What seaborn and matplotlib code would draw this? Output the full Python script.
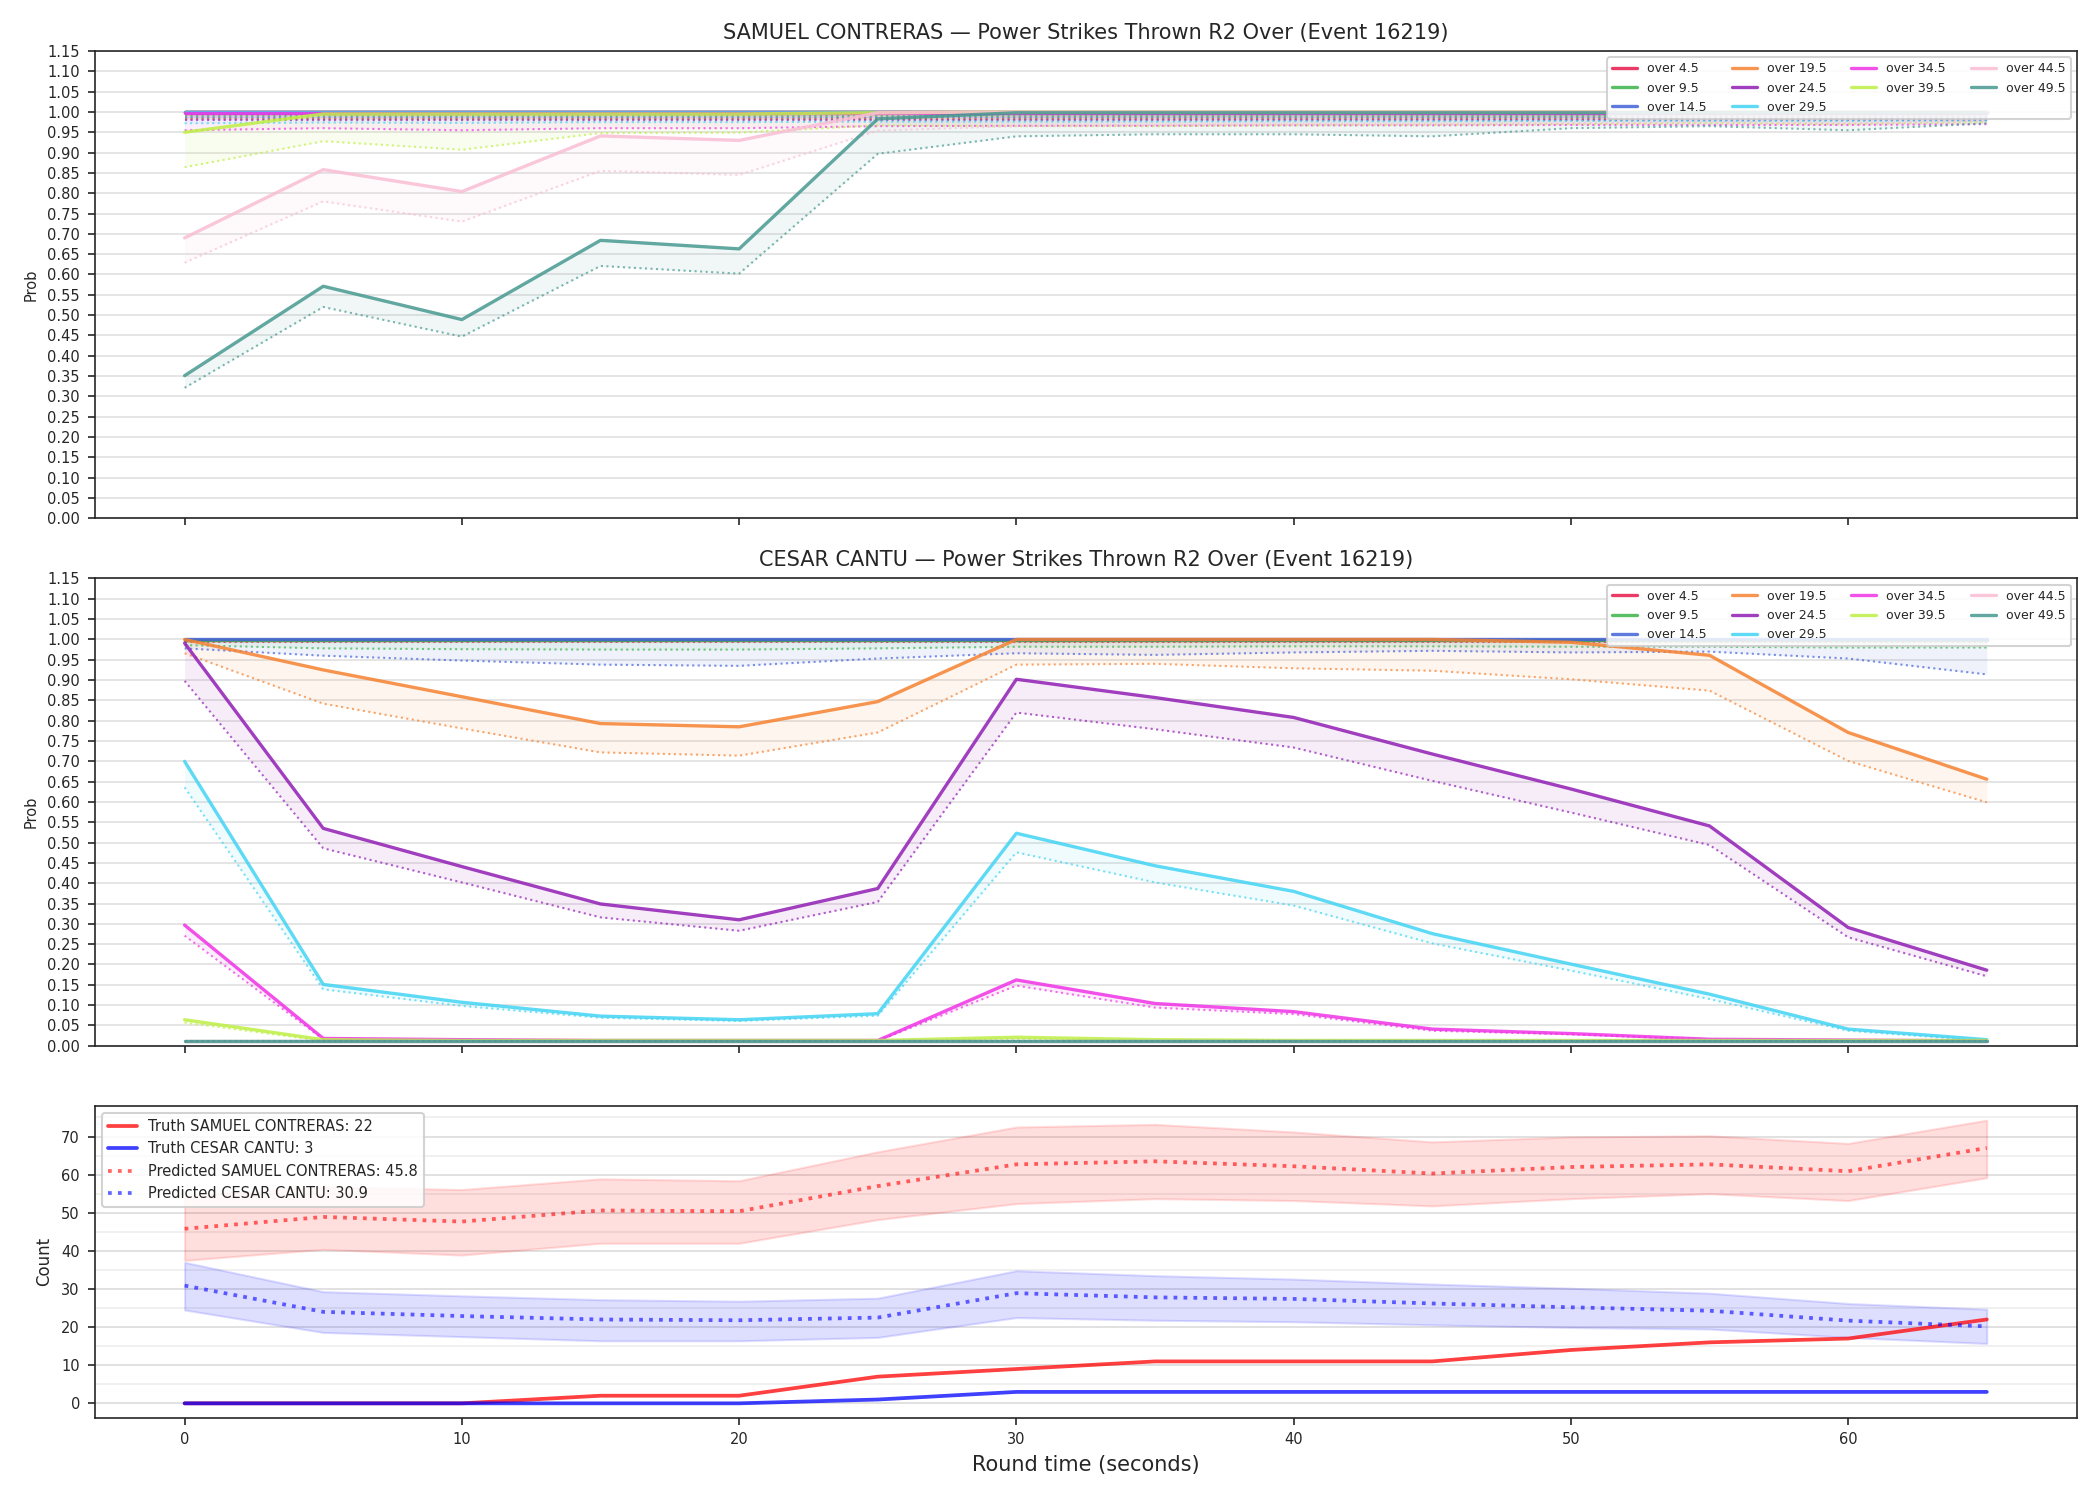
import numpy as np
import matplotlib
matplotlib.use("Agg")
import matplotlib.pyplot as plt
import seaborn as sns
from matplotlib.ticker import MultipleLocator, FormatStrFormatter

sns.set_style("ticks")
plt.rcParams['font.family'] = ['DejaVu Sans']

t = [0, 5, 10, 15, 20, 25, 30, 35, 40, 45, 50, 55, 60, 65]

thresholds = ["over 4.5", "over 9.5", "over 14.5", "over 19.5", "over 24.5",
              "over 29.5", "over 34.5", "over 39.5", "over 44.5", "over 49.5"]
colors = ["#e6194b", "#3cb44b", "#4363d8", "#f58231", "#911eb4",
          "#42d4f4", "#f032e6", "#bfef45", "#fabed4", "#469990"]

# SAMUEL CONTRERAS: probability (solid) and lower bound (dotted)
sc_prob = [
    [1.0] * 14,
    [1.0] * 14,
    [1.0] * 14,
    [1.0] * 14,
    [1.0] * 14,
    [1.0] * 14,
    [0.998] * 14,
    [0.95, 0.995, 0.995, 0.995, 0.995, 0.998, 1.0, 1.0, 1.0, 1.0, 1.0, 1.0, 1.0, 1.0],
    [0.69, 0.858, 0.804, 0.941, 0.93, 0.998, 1.0, 1.0, 1.0, 1.0, 1.0, 1.0, 1.0, 1.0],
    [0.351, 0.571, 0.489, 0.684, 0.663, 0.983, 0.998, 0.998, 0.998, 0.998, 0.998, 0.998, 0.998, 0.998],
]
sc_low = [
    [0.995] * 14,
    [0.99] * 14,
    [0.985] * 14,
    [0.983] * 14,
    [0.98] * 14,
    [0.972, 0.974, 0.973, 0.975, 0.975, 0.976, 0.976, 0.976, 0.977, 0.977, 0.978, 0.978, 0.978, 0.979],
    [0.955, 0.96, 0.955, 0.96, 0.96, 0.965, 0.966, 0.966, 0.967, 0.967, 0.968, 0.968, 0.968, 0.97],
    [0.864, 0.928, 0.907, 0.948, 0.949, 0.967, 0.965, 0.965, 0.967, 0.968, 0.97, 0.972, 0.97, 0.975],
    [0.629, 0.78, 0.73, 0.855, 0.845, 0.954, 0.965, 0.968, 0.97, 0.97, 0.972, 0.975, 0.972, 0.978],
    [0.321, 0.52, 0.447, 0.621, 0.602, 0.897, 0.94, 0.945, 0.945, 0.94, 0.96, 0.965, 0.955, 0.972],
]

# CESAR CANTU
cc_prob = [
    [0.9995] * 14,
    [0.9995] * 14,
    [1.0] * 14,
    [1.0, 0.925, 0.859, 0.793, 0.785, 0.847, 1.0, 1.0, 1.0, 1.0, 0.993, 0.961, 0.771, 0.656],
    [0.991, 0.535, 0.441, 0.349, 0.31, 0.387, 0.902, 0.857, 0.808, 0.718, 0.632, 0.541, 0.291, 0.186],
    [0.70, 0.151, 0.107, 0.073, 0.064, 0.079, 0.523, 0.443, 0.38, 0.276, 0.201, 0.127, 0.041, 0.015],
    [0.297, 0.018, 0.015, 0.013, 0.013, 0.013, 0.162, 0.104, 0.084, 0.041, 0.030, 0.016, 0.014, 0.012],
    [0.064, 0.015, 0.013, 0.013, 0.013, 0.013, 0.021, 0.015, 0.013, 0.013, 0.013, 0.013, 0.013, 0.013],
    [0.012] * 14,
    [0.012] * 14,
]
cc_low = [
    [0.994] * 14,
    [0.986, 0.978, 0.976, 0.975, 0.975, 0.978, 0.982, 0.982, 0.983, 0.983, 0.982, 0.982, 0.98, 0.98],
    [0.978, 0.96, 0.948, 0.938, 0.935, 0.953, 0.966, 0.962, 0.968, 0.972, 0.968, 0.97, 0.953, 0.914],
    [0.966, 0.842, 0.781, 0.722, 0.714, 0.771, 0.938, 0.940, 0.929, 0.923, 0.902, 0.874, 0.701, 0.599],
    [0.898, 0.486, 0.402, 0.316, 0.283, 0.354, 0.82, 0.779, 0.734, 0.652, 0.574, 0.494, 0.267, 0.171],
    [0.636, 0.139, 0.098, 0.069, 0.061, 0.074, 0.476, 0.402, 0.345, 0.252, 0.185, 0.115, 0.037, 0.012],
    [0.271, 0.016, 0.013, 0.012, 0.012, 0.012, 0.148, 0.094, 0.078, 0.037, 0.028, 0.015, 0.013, 0.011],
    [0.057, 0.012, 0.012, 0.012, 0.012, 0.012, 0.017, 0.012, 0.012, 0.012, 0.012, 0.012, 0.012, 0.012],
    [0.011] * 14,
    [0.011] * 14,
]

# counts
truth_sc = [0, 0, 0, 2, 2, 7, 9, 11, 11, 11, 14, 16, 17, 22]
truth_cc = [0, 0, 0, 0, 0, 1, 3, 3, 3, 3, 3, 3, 3, 3]
pred_sc = [45.8, 48.9, 47.7, 50.6, 50.4, 57.0, 62.7, 63.5, 62.2, 60.3, 62.0, 62.7, 60.9, 67.0]
pred_sc_hi = [54.5, 56.8, 56.1, 58.9, 58.4, 66.0, 72.5, 73.2, 71.2, 68.6, 69.9, 70.2, 68.2, 74.3]
pred_sc_lo = [37.5, 40.4, 38.9, 42.0, 42.0, 48.2, 52.4, 53.7, 53.2, 51.8, 53.7, 55.0, 53.2, 59.2]
pred_cc = [30.9, 24.0, 22.9, 22.0, 21.8, 22.5, 28.9, 27.8, 27.4, 26.2, 25.2, 24.3, 21.7, 20.2]
pred_cc_hi = [37.0, 29.3, 28.2, 27.2, 26.8, 27.6, 34.8, 33.5, 32.6, 31.3, 30.2, 28.9, 26.2, 24.7]
pred_cc_lo = [24.5, 18.6, 17.5, 16.4, 16.4, 17.3, 22.5, 21.8, 21.4, 20.6, 19.9, 19.5, 17.3, 15.7]

fig = plt.figure(figsize=(14, 10), dpi=150)
gs = fig.add_gridspec(3, 1, height_ratios=[3, 3, 2], hspace=0.145,
                      left=0.045, right=0.989, top=0.966, bottom=0.055)
ax1 = fig.add_subplot(gs[0])
ax2 = fig.add_subplot(gs[1], sharex=ax1)
ax3 = fig.add_subplot(gs[2], sharex=ax1)


def prob_panel(ax, probs, lows, title):
    for name, c, p, lo in zip(thresholds, colors, probs, lows):
        sns.lineplot(x=t, y=p, ax=ax, color=c, alpha=0.85, lw=1.6, label=name)
        sns.lineplot(x=t, y=lo, ax=ax, color=c, alpha=0.7, lw=1.0, linestyle=':', legend=False)
        ax.fill_between(t, lo, p, color=c, alpha=0.08, lw=0)
    ax.set_ylim(0, 1.15)
    ax.set_yticks(np.arange(0, 1.151, 0.05))
    ax.yaxis.set_major_formatter(FormatStrFormatter('%.2f'))
    ax.grid(axis='y', color='#e0e0e0', lw=0.8)
    ax.set_axisbelow(True)
    ax.set_title(title, fontsize=10)
    ax.set_ylabel("Prob", fontsize=7)
    ax.tick_params(labelsize=7)
    ax.tick_params(axis='x', labelbottom=False)
    ax.legend(loc='upper right', ncol=4, fontsize=6, framealpha=0.85)


prob_panel(ax1, sc_prob, sc_low, "SAMUEL CONTRERAS — Power Strikes Thrown R2 Over (Event 16219)")
prob_panel(ax2, cc_prob, cc_low, "CESAR CANTU — Power Strikes Thrown R2 Over (Event 16219)")

sns.lineplot(x=t, y=truth_sc, ax=ax3, color='red', alpha=0.75, lw=1.8,
             label="Truth SAMUEL CONTRERAS: %d" % truth_sc[-1])
sns.lineplot(x=t, y=truth_cc, ax=ax3, color='blue', alpha=0.75, lw=1.8,
             label="Truth CESAR CANTU: %d" % truth_cc[-1])
sns.lineplot(x=t, y=pred_sc, ax=ax3, color='red', alpha=0.6, lw=1.8, linestyle=':',
             label="Predicted SAMUEL CONTRERAS: %.1f" % pred_sc[0])
sns.lineplot(x=t, y=pred_cc, ax=ax3, color='blue', alpha=0.6, lw=1.8, linestyle=':',
             label="Predicted CESAR CANTU: %.1f" % pred_cc[0])
ax3.fill_between(t, pred_sc_lo, pred_sc_hi, color='red', alpha=0.13, lw=1)
ax3.fill_between(t, pred_cc_lo, pred_cc_hi, color='blue', alpha=0.13, lw=1)
ax3.yaxis.set_major_locator(MultipleLocator(10))
ax3.yaxis.set_minor_locator(MultipleLocator(5))
ax3.tick_params(which='minor', length=0)
ax3.grid(axis='y', which='major', color='#dcdcdc', lw=0.8)
ax3.grid(axis='y', which='minor', color='#eeeeee', lw=0.8)
ax3.set_axisbelow(True)
ax3.tick_params(labelsize=7)
ax3.set_ylabel("Count", fontsize=8)
ax3.set_xlabel("Round time (seconds)", fontsize=10)
ax3.legend(loc='upper left', fontsize=7, framealpha=0.85)

fig.savefig("out.png", dpi=150)
